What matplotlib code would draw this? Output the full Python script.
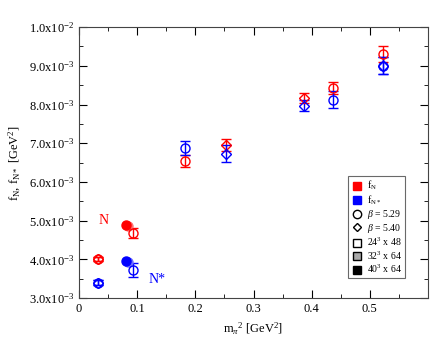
import numpy as np
import matplotlib
matplotlib.use("Agg")
import matplotlib.pyplot as plt
from matplotlib.lines import Line2D
from matplotlib.ticker import FixedLocator, FixedFormatter, MultipleLocator

plt.rcParams['font.family'] = ['Liberation Serif', 'DejaVu Serif']
plt.rcParams['mathtext.fontset'] = 'custom'
plt.rcParams['mathtext.rm'] = 'Liberation Serif'
plt.rcParams['mathtext.it'] = 'Liberation Serif:italic'

# f_N, open symbols (24^3 x 48), values in units of 1e-3 GeV^2
N_circ_x = [0.033, 0.092, 0.183, 0.436, 0.522]
N_circ_y = [4.00, 4.68, 6.54, 8.42, 9.30]
N_circ_err = [0.05, 0.12, 0.15, 0.15, 0.20]
N_diam_x = [0.033, 0.253, 0.387]
N_diam_y = [4.00, 6.96, 8.16]
N_diam_err = [0.05, 0.15, 0.13]

# f_N*, open symbols
Ns_circ_x = [0.033, 0.093, 0.183, 0.436, 0.522]
Ns_circ_y = [3.40, 3.72, 6.87, 8.12, 9.00]
Ns_circ_err = [0.07, 0.18, 0.18, 0.22, 0.22]
Ns_diam_x = [0.033, 0.253, 0.387, 0.522]
Ns_diam_y = [3.40, 6.73, 7.97, 9.00]
Ns_diam_err = [0.07, 0.22, 0.15, 0.22]

# filled symbols (40^3 x 64 dark, 32^3 x 64 light)
N_fill_x = [0.080, 0.084]
N_fill_y = [4.90, 4.85]
Ns_fill_x = [0.080, 0.084]
Ns_fill_y = [3.97, 3.92]

SCALE = 1e-3

fig = plt.figure(figsize=(4.44, 3.43), dpi=100)
ax = fig.add_axes([0.178, 0.131, 0.786, 0.79])


def draw(xs, ys, errs, color, marker, ms):
    ax.errorbar(xs, np.array(ys) * SCALE, yerr=np.array(errs) * SCALE,
                fmt=marker, ms=ms, mfc='none', mec=color, ecolor=color,
                elinewidth=1.0, capsize=3.5, capthick=1.0, mew=1.0)


draw(N_circ_x, N_circ_y, N_circ_err, 'red', 'o', 6.5)
draw(N_diam_x, N_diam_y, N_diam_err, 'red', 'D', 5.2)
draw(Ns_circ_x, Ns_circ_y, Ns_circ_err, 'blue', 'o', 6.5)
draw(Ns_diam_x, Ns_diam_y, Ns_diam_err, 'blue', 'D', 5.2)

# filled points
ax.plot(N_fill_x[1], N_fill_y[1] * SCALE, 'o', ms=6.5, color='#ff7070')
ax.plot(N_fill_x[0], N_fill_y[0] * SCALE, 'o', ms=6.5, color='red')
ax.plot(Ns_fill_x[1], Ns_fill_y[1] * SCALE, 'o', ms=6.5, color='#7070ff')
ax.plot(Ns_fill_x[0], Ns_fill_y[0] * SCALE, 'o', ms=6.5, color='blue')

ax.text(0.042, 5.0e-3, 'N', color='red', fontsize=10, ha='center', va='center')
ax.text(0.134, 3.48e-3, 'N*', color='blue', fontsize=10, ha='center', va='center')

ax.set_xlim(0, 0.6)
ax.set_ylim(3.0e-3, 1.0e-2)
ax.xaxis.set_major_locator(FixedLocator([0, 0.1, 0.2, 0.3, 0.4, 0.5]))
ax.xaxis.set_major_formatter(FixedFormatter(['0', '0.1', '0.2', '0.3', '0.4', '0.5']))
ax.xaxis.set_minor_locator(MultipleLocator(0.05))

yticks = [3e-3, 4e-3, 5e-3, 6e-3, 7e-3, 8e-3, 9e-3, 1e-2]
ylabels = [r'%.1fx10$^{\mathregular{-3}}$' % (v * 1e3) for v in yticks[:-1]]
ylabels.append(r'1.0x10$^{\mathregular{-2}}$')
ax.yaxis.set_major_locator(FixedLocator(yticks))
ax.yaxis.set_major_formatter(FixedFormatter(ylabels))
ax.yaxis.set_minor_locator(MultipleLocator(0.5e-3))

ax.tick_params(which='both', direction='in', top=True, right=True, labelsize=9)
ax.tick_params(which='major', length=6)
ax.tick_params(which='minor', length=3)
for sp in ax.spines.values():
    sp.set_color('#444444')

ax.set_xlabel(r'm$_\pi$$^{\mathregular{2}}$ [GeV$^{\mathregular{2}}$]', fontsize=9)
ax.set_ylabel(r'f$_{\mathregular{N}}$, f$_{\mathregular{N*}}$ [GeV$^{\mathregular{2}}$]', fontsize=9)

handles = [
    Line2D([], [], ls='none', marker='s', ms=5.5, color='red'),
    Line2D([], [], ls='none', marker='s', ms=5.5, color='blue'),
    Line2D([], [], ls='none', marker='o', ms=6, mfc='none', mec='black'),
    Line2D([], [], ls='none', marker='D', ms=4.5, mfc='none', mec='black'),
    Line2D([], [], ls='none', marker='s', ms=5.5, mfc='white', mec='black'),
    Line2D([], [], ls='none', marker='s', ms=5.5, mfc='#aaaaaa', mec='black'),
    Line2D([], [], ls='none', marker='s', ms=5.5, mfc='black', mec='black'),
]
labels = [r'f$_{\mathregular{N}}$', r'f$_{\mathregular{N*}}$', r'$\beta$ = 5.29',
          r'$\beta$ = 5.40', r'24$^{\mathregular{3}}$ x 48',
          r'32$^{\mathregular{3}}$ x 64', r'40$^{\mathregular{3}}$ x 64']
leg = ax.legend(handles, labels, loc='upper left', bbox_to_anchor=(0.756, 0.47),
                fontsize=7, frameon=True, fancybox=False, handletextpad=0.4,
                labelspacing=0.1, borderpad=0.35, handlelength=1.2)
leg.get_frame().set_edgecolor('#444444')
leg.get_frame().set_linewidth(0.8)

fig.savefig('out.png', dpi=100)
